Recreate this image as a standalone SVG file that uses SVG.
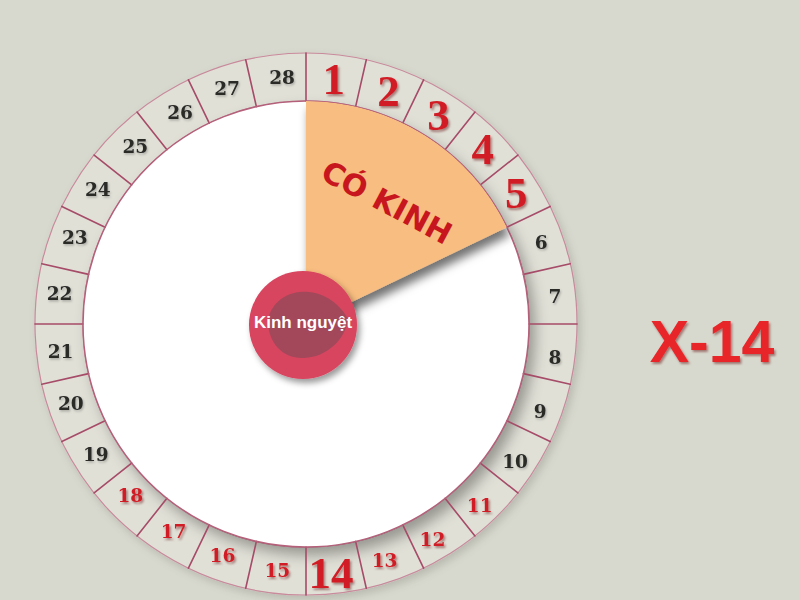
<svg xmlns="http://www.w3.org/2000/svg" width="800" height="600" viewBox="0 0 800 600">
<defs>
<style>
.ring{fill:#E0E0D7;stroke:#C98A9C;stroke-width:1.2}
.spk{stroke:#A64B68;stroke-width:1.6;stroke-linecap:round}
.sm{font-family:"DejaVu Serif","Liberation Serif",serif;font-weight:bold;font-size:18.5px;text-anchor:middle}
.bg{font-family:"Liberation Serif","DejaVu Serif",serif;font-weight:bold;font-size:45px;text-anchor:middle;fill:#D11F26}
.blk{fill:#2A2A28}
.red{fill:#D11F26}
</style>
<filter id="shRed" x="-30%" y="-30%" width="160%" height="160%"><feDropShadow dx="1.5" dy="2" stdDeviation="1" flood-color="#5a0000" flood-opacity="0.45"/></filter>
<filter id="shDk" x="-30%" y="-30%" width="160%" height="160%"><feDropShadow dx="1" dy="1.5" stdDeviation="0.8" flood-color="#000" flood-opacity="0.25"/></filter>
<filter id="shDisc" x="-20%" y="-20%" width="140%" height="140%"><feDropShadow dx="6" dy="8" stdDeviation="7" flood-color="#000" flood-opacity="0.33"/></filter>
<filter id="shRing" x="-20%" y="-20%" width="140%" height="140%"><feDropShadow dx="3" dy="4" stdDeviation="4" flood-color="#000" flood-opacity="0.15"/></filter>
<filter id="shSec" x="-30%" y="-30%" width="160%" height="160%"><feDropShadow dx="3" dy="8" stdDeviation="5" flood-color="#000" flood-opacity="0.55"/></filter>
<filter id="shCirc" x="-30%" y="-30%" width="160%" height="160%"><feDropShadow dx="3" dy="4" stdDeviation="3" flood-color="#000" flood-opacity="0.4"/></filter>
<clipPath id="inner"><circle cx="306" cy="324" r="223"/></clipPath>
</defs>
<rect width="800" height="600" fill="#D8D9CE"/>

<g id="ring">
<path class="ring" filter="url(#shRing)" fill-rule="evenodd" d="M306,53 A271,271 0 1,1 305.99,53 Z M306,101 A223,223 0 1,0 306.01,101 Z"/>
</g>
<g id="disc">
<circle cx="306" cy="324" r="223" fill="#FFFFFF" filter="url(#shDisc)"/>
</g>
<g id="connectors">
<line class="spk" x1="306" y1="101" x2="306" y2="53"/>
<line class="spk" x1="355.62" y1="106.59" x2="366.30" y2="59.79"/>
<line class="spk" x1="402.76" y1="123.08" x2="423.58" y2="79.84"/>
<line class="spk" x1="445.04" y1="149.65" x2="474.97" y2="112.12"/>
<line class="spk" x1="480.35" y1="184.96" x2="517.88" y2="155.03"/>
<line class="spk" x1="506.92" y1="227.24" x2="550.16" y2="206.42"/>
<line class="spk" x1="523.41" y1="274.38" x2="570.21" y2="263.70"/>
<line class="spk" x1="529" y1="324" x2="577" y2="324"/>
<line class="spk" x1="523.41" y1="373.62" x2="570.21" y2="384.30"/>
<line class="spk" x1="506.92" y1="420.76" x2="550.16" y2="441.58"/>
<line class="spk" x1="480.35" y1="463.04" x2="517.88" y2="492.97"/>
<line class="spk" x1="445.04" y1="498.35" x2="474.97" y2="535.88"/>
<line class="spk" x1="402.76" y1="524.92" x2="423.58" y2="568.16"/>
<line class="spk" x1="355.62" y1="541.41" x2="366.30" y2="588.21"/>
<line class="spk" x1="306" y1="547" x2="306" y2="595"/>
<line class="spk" x1="256.38" y1="541.41" x2="245.70" y2="588.21"/>
<line class="spk" x1="209.24" y1="524.92" x2="188.42" y2="568.16"/>
<line class="spk" x1="166.96" y1="498.35" x2="137.03" y2="535.88"/>
<line class="spk" x1="131.65" y1="463.04" x2="94.12" y2="492.97"/>
<line class="spk" x1="105.08" y1="420.76" x2="61.84" y2="441.58"/>
<line class="spk" x1="88.59" y1="373.62" x2="41.79" y2="384.30"/>
<line class="spk" x1="83" y1="324" x2="35" y2="324"/>
<line class="spk" x1="88.59" y1="274.38" x2="41.79" y2="263.70"/>
<line class="spk" x1="105.08" y1="227.24" x2="61.84" y2="206.42"/>
<line class="spk" x1="131.65" y1="184.96" x2="94.12" y2="155.03"/>
<line class="spk" x1="166.96" y1="149.65" x2="137.03" y2="112.12"/>
<line class="spk" x1="209.24" y1="123.08" x2="188.42" y2="79.84"/>
<line class="spk" x1="256.38" y1="106.59" x2="245.70" y2="59.79"/>
<circle cx="306" cy="324" r="223" fill="none" stroke="#B4607A" stroke-width="1.5"/>
</g>

<g id="period-sector" clip-path="url(#inner)">
<path d="M306,324 L306,101 A223,223 0 0,1 506.92,227.24 Z" fill="#F8BD80" filter="url(#shSec)"/>
<text transform="rotate(28 387 202)" x="387" y="213" text-anchor="middle" font-family="'DejaVu Sans','Verdana',sans-serif" font-weight="bold" font-size="30" fill="#C8161E">CÓ KINH</text>
</g>

<g id="center">
<circle cx="303" cy="325" r="54" fill="#D8445F" filter="url(#shCirc)"/>
<path d="M268,321 C270,305 284,293 300,292 C318,290 338,300 348,319 C346,338 328,357 304,358 C283,359 268,343 268,321 Z" fill="#A3485A"/>
<text x="303" y="328" text-anchor="middle" font-family="'Liberation Sans',Arial,sans-serif" font-weight="bold" font-size="17" fill="#FFFFFF">Kinh nguyệt</text>
</g>

<g id="days">
<g filter="url(#shRed)">
<text class="bg" x="333.65" y="94">1</text>
<text class="bg" x="388.58" y="106">2</text>
<text class="bg" x="438.41" y="130">3</text>
<text class="bg" x="482.66" y="164">4</text>
<text class="bg" x="516.14" y="208">5</text>
<text class="bg" x="331" y="588">14</text>
<text class="sm red" x="479.66" y="512">11</text>
<text class="sm red" x="432.41" y="546">12</text>
<text class="sm red" x="384.58" y="567">13</text>
<text class="sm red" x="277.35" y="577">15</text>
<text class="sm red" x="222.42" y="562">16</text>
<text class="sm red" x="173.59" y="538">17</text>
<text class="sm red" x="130.34" y="502">18</text>
</g>
<g filter="url(#shDk)">
<text class="sm blk" x="541.14" y="249">6</text>
<text class="sm blk" x="555" y="303">7</text>
<text class="sm blk" x="555" y="364">8</text>
<text class="sm blk" x="540.14" y="418">9</text>
<text class="sm blk" x="515.14" y="468">10</text>
<text class="sm blk" x="95.86" y="461">19</text>
<text class="sm blk" x="70.86" y="410">20</text>
<text class="sm blk" x="60.55" y="358">21</text>
<text class="sm blk" x="59.55" y="300">22</text>
<text class="sm blk" x="74.86" y="244">23</text>
<text class="sm blk" x="97.86" y="196">24</text>
<text class="sm blk" x="135.34" y="153">25</text>
<text class="sm blk" x="180" y="119">26</text>
<text class="sm blk" x="227" y="95">27</text>
<text class="sm blk" x="282" y="84">28</text>
</g>
</g>

<g id="label-x14">
<text x="712" y="362" text-anchor="middle" font-family="'Liberation Sans',Arial,sans-serif" font-weight="bold" font-size="59" fill="#E8262A" filter="url(#shRed)">X-14</text>
</g>
</svg>
